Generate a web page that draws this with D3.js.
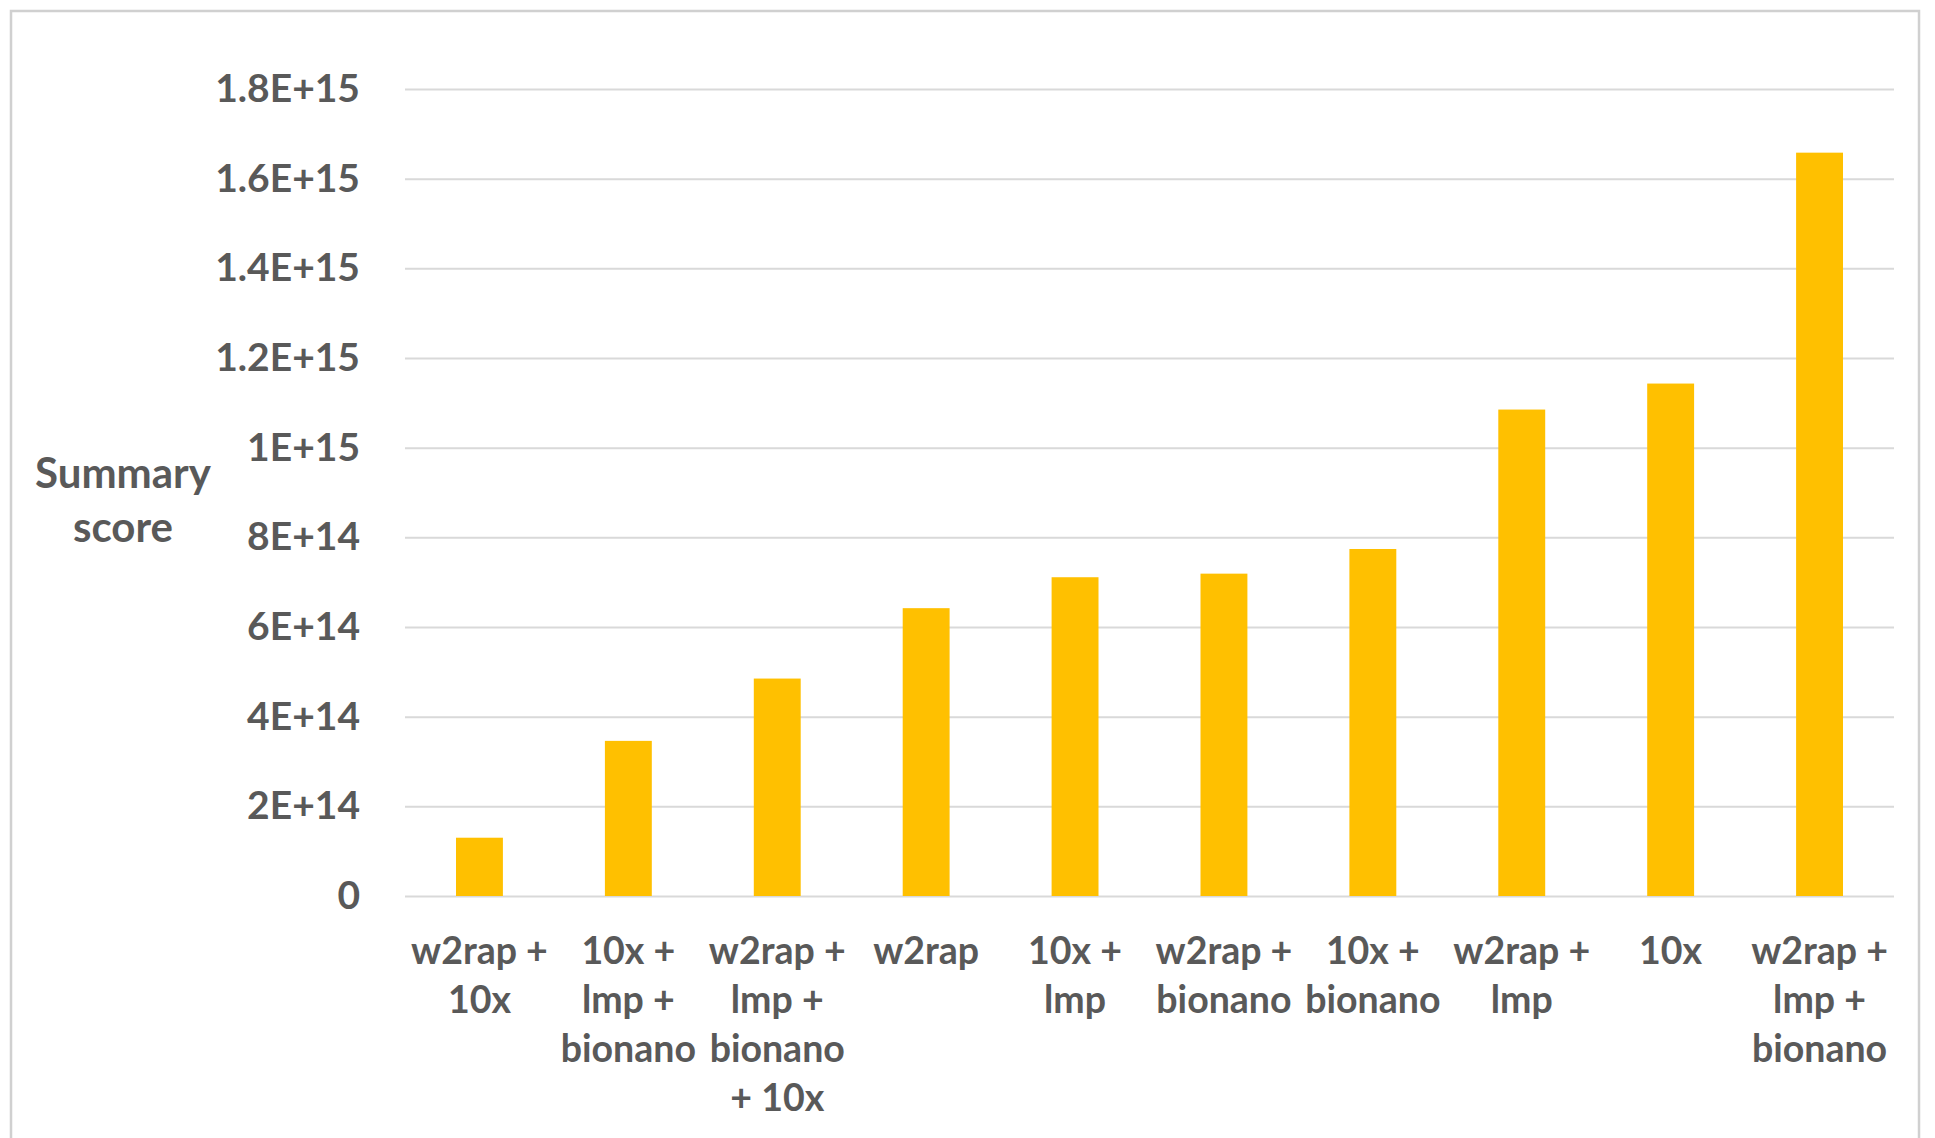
<!DOCTYPE html>
<html>
<head>
<meta charset="utf-8">
<script src="https://cdn.jsdelivr.net/npm/d3@7"></script>
<style>
  html, body { margin: 0; padding: 0; background: #fff; }
  svg { display: block; }
  text { font-family: Lato, "Open Sans", sans-serif; font-weight: bold; fill: #595959; }
</style>
</head>
<body>
<svg width="1935" height="1138"></svg>
<script>
// data
const categories = [
  "w2rap + 10x",
  "10x + lmp + bionano",
  "w2rap + lmp + bionano + 10x",
  "w2rap",
  "10x + lmp",
  "w2rap + bionano",
  "10x + bionano",
  "w2rap + lmp",
  "10x",
  "w2rap + lmp + bionano"
];
// how the category labels wrap under the bars
const categoryLines = [
  ["w2rap +", "10x"],
  ["10x +", "lmp +", "bionano"],
  ["w2rap +", "lmp +", "bionano", "+ 10x"],
  ["w2rap"],
  ["10x +", "lmp"],
  ["w2rap +", "bionano"],
  ["10x +", "bionano"],
  ["w2rap +", "lmp"],
  ["10x"],
  ["w2rap +", "lmp +", "bionano"]
];
const scores = [1.3e14, 3.46e14, 4.85e14, 6.42e14, 7.11e14, 7.19e14, 7.74e14, 1.085e15, 1.143e15, 1.658e15];
const yTicks = [0, 2e14, 4e14, 6e14, 8e14, 1e15, 1.2e15, 1.4e15, 1.6e15, 1.8e15];
const yTickLabels = ["0", "2E+14", "4E+14", "6E+14", "8E+14", "1E+15", "1.2E+15", "1.4E+15", "1.6E+15", "1.8E+15"];

const svg = d3.select("svg");

// outer chart border
svg.append("rect")
  .attr("x", 11).attr("y", 11)
  .attr("width", 1908).attr("height", 1140)
  .attr("fill", "none")
  .attr("stroke", "#d0d0d0")
  .attr("stroke-width", 2.5);

const plot = { left: 405, right: 1894, top: 89, bottom: 896 };

const x = d3.scaleBand()
  .domain(categories)
  .range([plot.left, plot.right])
  .paddingInner(0.685)
  .paddingOuter(0.3425);

const y = d3.scaleLinear()
  .domain([0, 1.8e15])
  .range([plot.bottom, plot.top]);

// gridlines + tick labels
const yAxis = d3.axisLeft(y)
  .tickValues(yTicks)
  .tickSize(-(plot.right - plot.left))
  .tickPadding(45)
  .tickFormat((d, i) => yTickLabels[i]);

const gy = svg.append("g")
  .attr("transform", `translate(${plot.left},0)`)
  .call(yAxis);
gy.select(".domain").remove();
gy.selectAll(".tick line").attr("stroke", "#d9d9d9").attr("stroke-width", 2);
gy.selectAll(".tick text")
  .attr("font-size", 39)
  .attr("fill", "#595959")
  .style("font-family", "Lato, sans-serif")
  .style("font-weight", "bold");

// bars
svg.append("g")
  .selectAll("rect")
  .data(scores)
  .join("rect")
  .attr("x", (d, i) => x(categories[i]))
  .attr("y", d => y(d))
  .attr("width", x.bandwidth())
  .attr("height", d => y(0) - y(d))
  .attr("fill", "#FFC000");

// category labels
const gx = svg.append("g");
categories.forEach((c, i) => {
  const t = gx.append("text")
    .attr("x", x(c) + x.bandwidth() / 2)
    .attr("y", 964)
    .attr("text-anchor", "middle")
    .attr("font-size", 37.5);
  categoryLines[i].forEach((line, j) => {
    t.append("tspan")
      .attr("x", x(c) + x.bandwidth() / 2)
      .attr("dy", j === 0 ? 0 : 49)
      .text(line);
  });
});

// y axis title
svg.append("text")
  .attr("x", 123).attr("y", 488)
  .attr("text-anchor", "middle")
  .attr("font-size", 42)
  .text("Summary");
svg.append("text")
  .attr("x", 123).attr("y", 542)
  .attr("text-anchor", "middle")
  .attr("font-size", 42)
  .text("score");
</script>
</body>
</html>
